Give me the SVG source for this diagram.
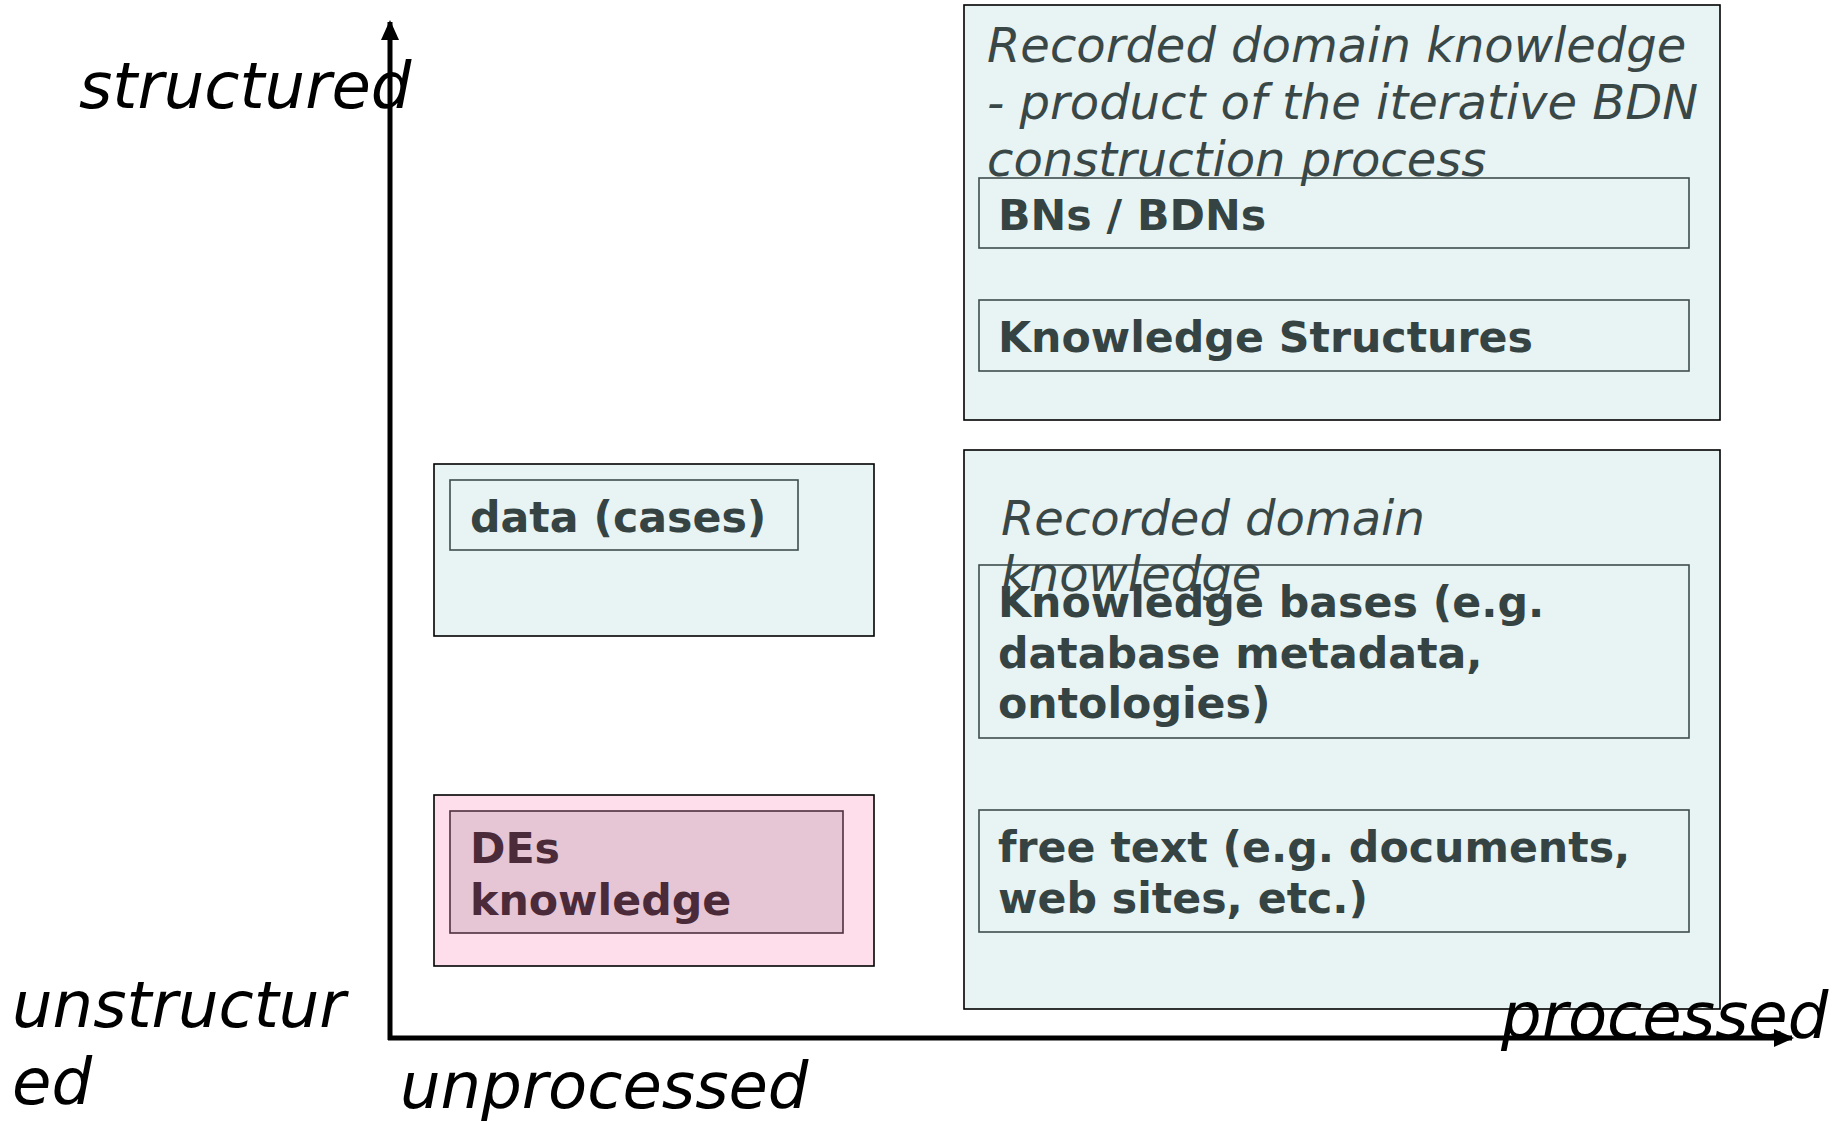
<svg xmlns="http://www.w3.org/2000/svg" width="1846" height="1123" viewBox="0 0 1846 1123">
  <style>
    .outer { fill: #e8f4f4; stroke: #000; stroke-width: 1.6; }
    .inner { fill: #e8f4f4; stroke: #3f4d4d; stroke-width: 1.6; }
    .outer-pink { fill: #ffdeec; stroke: #000; stroke-width: 1.6; }
    .inner-pink { fill: #e6c6d4; stroke: #4e2f3d; stroke-width: 1.6; }
    .title { font-family: "DejaVu Sans", sans-serif; font-style: italic; font-size: 48px; fill: #3a4747; }
    .label { font-family: "DejaVu Sans", sans-serif; font-weight: bold; font-size: 42.7px; fill: #364343; }
    .label-pink { font-family: "DejaVu Sans", sans-serif; font-weight: bold; font-size: 42.7px; fill: #4b2a39; }
    .axis-label { font-family: "DejaVu Sans", sans-serif; font-style: italic; font-size: 64px; fill: #000; }
    .axis { stroke: #000; stroke-width: 5; fill: none; }
  </style>
  <defs>
    <marker id="arrow" viewBox="0 0 20 20" refX="18" refY="10" markerUnits="userSpaceOnUse" markerWidth="20" markerHeight="20" orient="auto">
      <path d="M0,1 L20,10 L0,19 Z" fill="#000"/>
    </marker>
  </defs>

  <rect width="1846" height="1123" fill="#fff"/>

  <!-- axes -->
  <g id="connectors">
    <path class="axis" d="M390,1040 L390,22" marker-end="url(#arrow)"/>
    <path class="axis" d="M388,1038 L1792,1038" marker-end="url(#arrow)"/>
  </g>

  <!-- recorded knowledge from the BDN construction process -->
  <g id="recorded-bdn">
    <rect class="outer" x="964" y="5" width="756" height="415"/>
    <g id="bns-bdns">
      <rect class="inner" x="979" y="178" width="710" height="70"/>
      <text class="label" x="998" y="230">BNs / BDNs</text>
    </g>
    <g id="knowledge-structures">
      <rect class="inner" x="979" y="300" width="710" height="71"/>
      <text class="label" x="998" y="352">Knowledge Structures</text>
    </g>
    <text class="title" x="987" y="62">Recorded domain knowledge</text>
    <text class="title" x="987" y="119">- product of the iterative BDN</text>
    <text class="title" x="987" y="176">construction process</text>
  </g>

  <!-- recorded domain knowledge -->
  <g id="recorded-domain">
    <rect class="outer" x="964" y="450" width="756" height="559"/>
    <g id="knowledge-bases">
      <rect class="inner" x="979" y="565" width="710" height="173"/>
      <text class="label" x="998" y="617">Knowledge bases (e.g.</text>
      <text class="label" x="998" y="668">database metadata,</text>
      <text class="label" x="998" y="718">ontologies)</text>
    </g>
    <g id="free-text">
      <rect class="inner" x="979" y="810" width="710" height="122"/>
      <text class="label" x="998" y="862">free text (e.g. documents,</text>
      <text class="label" x="998" y="913">web sites, etc.)</text>
    </g>
    <text class="title" x="1001" y="535">Recorded domain</text>
    <text class="title" x="1001" y="591">knowledge</text>
  </g>

  <!-- data -->
  <g id="data-group">
    <rect class="outer" x="434" y="464" width="440" height="172"/>
  </g>
  <g id="data-cases">
    <rect class="inner" x="450" y="480" width="348" height="70"/>
    <text class="label" x="470" y="532">data (cases)</text>
  </g>

  <!-- domain experts -->
  <g id="des-group">
    <rect class="outer-pink" x="434" y="795" width="440" height="171"/>
  </g>
  <g id="des-knowledge">
    <rect class="inner-pink" x="450" y="811" width="393" height="122"/>
    <text class="label-pink" x="470" y="863">DEs</text>
    <text class="label-pink" x="470" y="915">knowledge</text>
  </g>

  <!-- axis labels -->
  <g id="axis-labels">
    <text class="axis-label" x="79" y="108">structured</text>
    <text class="axis-label" x="12" y="1027">unstructur</text>
    <text class="axis-label" x="12" y="1104">ed</text>
    <text class="axis-label" x="400" y="1108">unprocessed</text>
    <text class="axis-label" x="1501" y="1038">processed</text>
  </g>
</svg>
